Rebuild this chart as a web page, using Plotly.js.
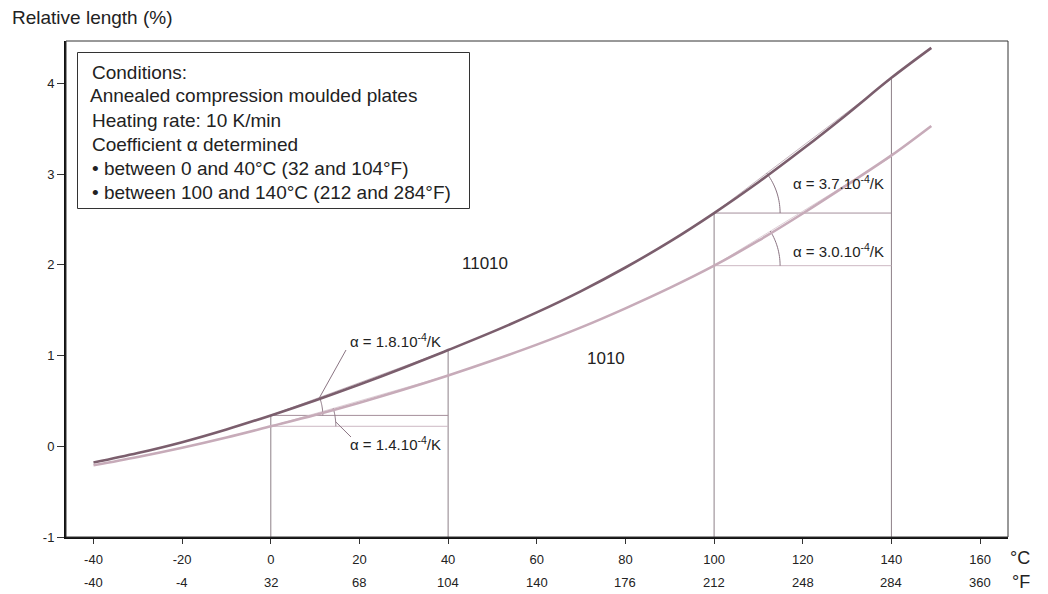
<!DOCTYPE html>
<html><head><meta charset="utf-8">
<script src="https://cdn.plot.ly/plotly-3.0.1.min.js"></script>
<style>html,body{margin:0;padding:0;background:#fff}</style>
</head><body><div id="chart" style="width:1048px;height:594px"></div>
<script>
// ---- data ----
const tempC    = [-40, -30, -20, -10, 0, 10, 20, 30, 40, 50, 60, 70, 80, 90, 100, 110, 120, 130, 140, 149];
const len11010 = [-0.18, -0.075, 0.045, 0.185, 0.34, 0.505, 0.68, 0.865, 1.06, 1.26, 1.475, 1.71, 1.97, 2.255, 2.57, 2.91, 3.275, 3.66, 4.06, 4.39];
const len1010  = [-0.21, -0.118, -0.016, 0.097, 0.22, 0.345, 0.48, 0.625, 0.78, 0.945, 1.12, 1.31, 1.52, 1.745, 1.99, 2.265, 2.565, 2.88, 3.205, 3.53];
const tickC = [-40, -20, 0, 20, 40, 60, 80, 100, 120, 140, 160];
const tickF = ['-40', '-4', '32', '68', '104', '140', '176', '212', '248', '284', '360'];
const tickY = [-1, 0, 1, 2, 3, 4];
const intervalStart = [0, 100];
const intervalEnd   = [40, 140];
const alpha11010 = [1.8, 3.7];   // 10^-4 /K
const alpha1010  = [1.4, 3.0];
const conditionLines = ['Conditions:', 'Annealed compression moulded plates', 'Heating rate: 10 K/min',
  'Coefficient \u03b1 determined', '\u2022 between 0 and 40\u00b0C (32 and 104\u00b0F)', '\u2022 between 100 and 140\u00b0C (212 and 284\u00b0F)'];

// ---- layout geometry ----
const W = 1048, H = 594, L = 66, R = 40, T = 41, B = 57;
const pw = W - L - R, ph = H - T - B;
const xr = [-46.2, 166.3], yr = [-1, 4.466];
const xs = pw / (xr[1] - xr[0]), ys = ph / (yr[1] - yr[0]);
const px = v => (v - L) / pw;          // pixel -> paper x
const py = v => (H - B - v) / ph;      // pixel -> paper y
const FONT = 'Liberation Sans, Arial, Helvetica, sans-serif';
const TXT = '#222';
const DARK = '#7b5e6d', LIGHT = '#c7abb9';
const at = (arr, t) => arr[tempC.indexOf(t)];

const traces = [
  {x: tempC, y: len11010, mode: 'lines', line: {color: DARK, width: 2.6, shape: 'spline', smoothing: 1}, name: '11010', hoverinfo: 'x+y'},
  {x: tempC, y: len1010, mode: 'lines', line: {color: LIGHT, width: 2.6, shape: 'spline', smoothing: 1}, name: '1010', hoverinfo: 'x+y'}
];

const shapes = [];
const annotations = [];
const line = (x0, y0, x1, y1, color, width) => shapes.push({type: 'line', xref: 'x', yref: 'y', x0, y0, x1, y1, line: {color, width: width || 1}, layer: 'below'});
function arc(cx, cy, r, slope) {
  const th = Math.atan(slope * 0.01 * ys / xs);
  let d = '';
  for (let i = 0; i <= 20; i++) {
    const a = th * i / 20;
    const x = cx + r * Math.cos(a) / xs, y = cy + r * Math.sin(a) / ys;
    d += (i ? ' L ' : 'M ') + x.toFixed(3) + ',' + y.toFixed(4);
  }
  shapes.push({type: 'path', xref: 'x', yref: 'y', path: d, line: {color: '#8a7482', width: 1}, layer: 'below'});
  return th;
}

// construction lines
for (let i = 0; i < intervalStart.length; i++) {
  const t0 = intervalStart[i], t1 = intervalEnd[i];
  const d0 = at(len11010, t0), d1 = at(len11010, t1), l0 = at(len1010, t0);
  line(t0, yr[0], t0, d0, '#8d8088');
  line(t1, yr[0], t1, d1, '#8d8088');
  line(t0, d0, t1, d0, '#a58f9b');
  line(t0, l0, t1, l0, '#cdb8c3');
  line(t0, d0, t1, d0 + alpha11010[i] * (t1 - t0) * 0.01, '#b8a3ae', 0.8);
  line(t0, l0, t1, l0 + alpha1010[i] * (t1 - t0) * 0.01, '#d6c4cd', 0.8);
}
// angle arcs
const thA = arc(0, at(len11010, 0), 52, alpha11010[0]);
arc(0, at(len1010, 0), 65, alpha1010[0]);
arc(100, at(len11010, 100), 66, alpha11010[1]);
arc(100, at(len1010, 100), 66, alpha1010[1]);
// leader lines (pixel-based)
const pxToX = p => xr[0] + (p - L) / xs, pxToY = p => yr[0] + (H - B - p) / ys;
const arcEndX = 0 + 52 * Math.cos(thA) / xs, arcEndY = at(len11010, 0) + 52 * Math.sin(thA) / ys;
line(arcEndX, arcEndY, pxToX(346), pxToY(350), '#8a7482');
const lx0 = 65 * Math.cos(0.07) / xs, ly0 = at(len1010, 0) + 65 * Math.sin(0.07) / ys;
line(lx0, ly0, pxToX(351), pxToY(437), '#8a7482');

// frame (top/right thin)
shapes.push({type: 'rect', xref: 'paper', yref: 'paper', x0: 0, y0: 0, x1: 1, y1: 1, line: {color: '#333', width: 1}, layer: 'above'});
// conditions box
shapes.push({type: 'rect', xref: 'paper', yref: 'paper', x0: px(77.5), y0: py(208.5), x1: px(469.5), y1: py(52.5), line: {color: '#333', width: 1}, fillcolor: 'rgba(255,255,255,1)', layer: 'above'});
const lineY = [72, 96, 120, 144, 168, 192];
conditionLines.forEach((t, i) => annotations.push({xref: 'paper', yref: 'paper', x: px(i === 1 ? 88 : 90), y: py(lineY[i]), xanchor: 'left', yanchor: 'middle', text: t, showarrow: false, font: {family: FONT, size: 19, color: TXT}}));

// alpha labels
const aLab = (txt, xl, yc) => annotations.push({xref: 'paper', yref: 'paper', x: px(xl), y: py(yc), xanchor: 'left', yanchor: 'middle', text: txt, showarrow: false, font: {family: FONT, size: 15, color: TXT}});
aLab('\u03b1 = ' + alpha11010[0].toFixed(1) + '.10<sup>-4</sup>/K', 348, 340);
aLab('\u03b1 = ' + alpha1010[0].toFixed(1) + '.10<sup>-4</sup>/K', 348, 443);
aLab('\u03b1 = ' + alpha11010[1].toFixed(1) + '.10<sup>-4</sup>/K', 791, 182);
aLab('\u03b1 = ' + alpha1010[1].toFixed(1) + '.10<sup>-4</sup>/K', 791, 250);
// series labels
annotations.push({xref: 'paper', yref: 'paper', x: px(485), y: py(263), text: '11010', showarrow: false, font: {family: FONT, size: 17, color: TXT}});
annotations.push({xref: 'paper', yref: 'paper', x: px(606), y: py(358), text: '1010', showarrow: false, font: {family: FONT, size: 17, color: TXT}});
// axis title
annotations.push({xref: 'paper', yref: 'paper', x: px(10), y: py(18), xanchor: 'left', yanchor: 'middle', text: 'Relative length (%)', showarrow: false, font: {family: FONT, size: 19, color: TXT}});
// Fahrenheit row
tickC.forEach((t, i) => annotations.push({xref: 'x', yref: 'paper', x: t, y: py(582), yanchor: 'middle', text: tickF[i], showarrow: false, font: {family: FONT, size: 13, color: TXT}}));
annotations.push({xref: 'paper', yref: 'paper', x: px(1032), y: py(558), yanchor: 'middle', text: '\u00b0C', showarrow: false, font: {family: FONT, size: 18, color: TXT}});
annotations.push({xref: 'paper', yref: 'paper', x: px(1032), y: py(582), yanchor: 'middle', text: '\u00b0F', showarrow: false, font: {family: FONT, size: 18, color: TXT}});

const layout = {
  width: W, height: H, margin: {l: L, r: R, t: T, b: B, pad: 0},
  paper_bgcolor: '#fff', plot_bgcolor: '#fff', showlegend: false,
  font: {family: FONT, color: TXT},
  xaxis: {range: xr, tickmode: 'array', tickvals: tickC, ticktext: tickC.map(String), ticks: 'outside', ticklen: 5, tickcolor: '#333',
    showline: true, linewidth: 2, linecolor: '#111', showgrid: false, zeroline: false, tickfont: {size: 13, family: FONT, color: TXT}, ticklabelstandoff: 4},
  yaxis: {range: yr, tickmode: 'array', tickvals: tickY, ticktext: tickY.map(String), ticks: 'outside', ticklen: 7, tickcolor: '#333',
    showline: true, linewidth: 2, linecolor: '#111', showgrid: false, zeroline: false, tickfont: {size: 13, family: FONT, color: TXT}},
  shapes, annotations
};
Plotly.newPlot('chart', traces, layout, {displayModeBar: false, staticPlot: true});
</script></body></html>
